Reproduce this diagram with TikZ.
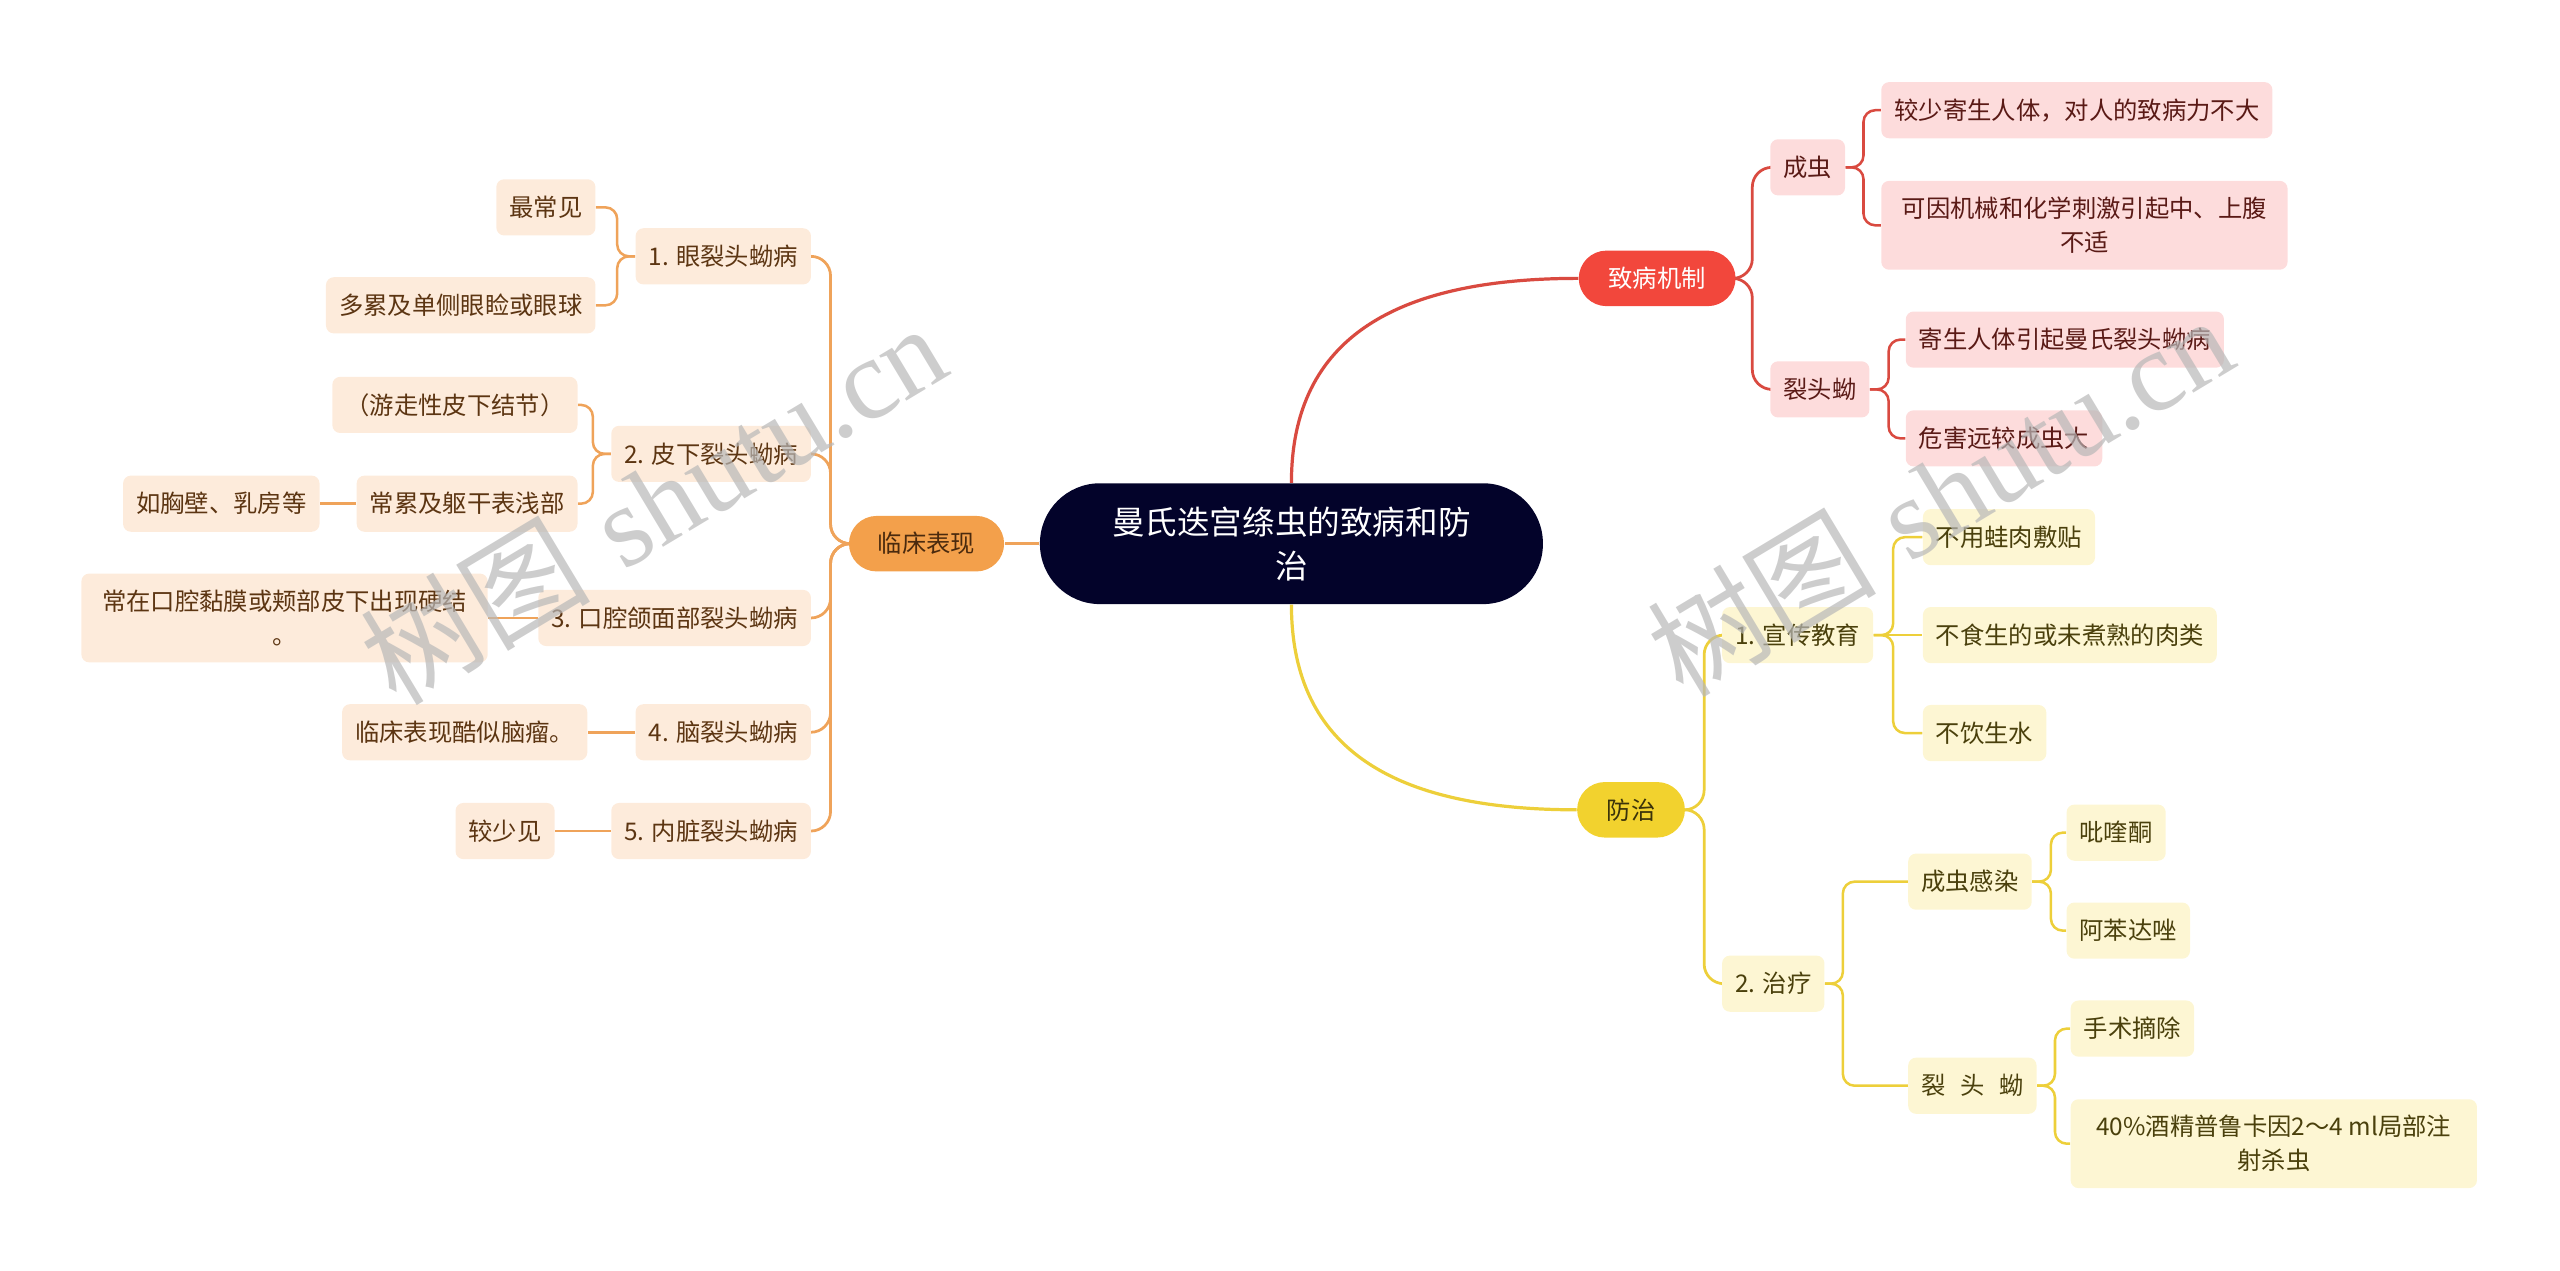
\documentclass[tikz,border=0pt]{standalone}
\usepackage{fontspec}
\usetikzlibrary{backgrounds}
\newfontfamily\cjk{Noto Sans CJK SC}
\newfontfamily\wmserif{Liberation Serif}
\definecolor{rootfill}{HTML}{03032A}
\definecolor{ofill}{HTML}{F3A04B}
\definecolor{rfill}{HTML}{F2473C}
\definecolor{yfill}{HTML}{F2D22E}
\definecolor{lbg}{HTML}{FDEBDB}
\definecolor{rbg}{HTML}{FDDCDC}
\definecolor{ybg}{HTML}{FDF6D3}
\definecolor{ltxt}{HTML}{5C3512}
\definecolor{rtxt}{HTML}{5A1A16}
\definecolor{ytxt}{HTML}{4A400C}
\definecolor{oline}{HTML}{EFA35A}
\definecolor{rline}{HTML}{D94A40}
\definecolor{yline}{HTML}{EDCF3A}
\tikzset{
  every node/.style={font=\cjk\fontsize{10.6pt}{14.9pt}\selectfont},
  basebox/.style={rounded corners=0.12cm, inner xsep=0.2cm, minimum height=0.86cm, align=center},
  lbox/.style={basebox, fill=lbg, text=ltxt},
  rbox/.style={basebox, fill=rbg, text=rtxt},
  ybox/.style={basebox, fill=ybg, text=ytxt},
  twoline/.style={minimum height=1.36cm, minimum width=6.22cm},
  pill/.style={rounded corners=0.425cm, minimum height=0.85cm, inner xsep=0.1cm},
  mainl/.style={line width=1.4pt},
  brl/.style={line width=1.2pt, rounded corners=0.3cm},
  subl/.style={line width=1.1pt, rounded corners=0.18cm},
  strl/.style={line width=1.1pt},
  wm/.style={font=\fontsize{50pt}{50pt}\selectfont, text=black!28, opacity=0.7, rotate=31}
}
\begin{document}
\begin{tikzpicture}[x=0.025cm, y=-0.025cm]
\useasboundingbox (0,0) rectangle (1568,778);

% ---------- root and main branches ----------
\node[fill=rootfill, text=white, rounded corners=0.92cm, minimum width=7.7cm, minimum height=1.85cm,
      align=center, font=\cjk\fontsize{14.2pt}{19.2pt}\selectfont] (root) at (791,333)
      {曼氏迭宫绦虫的致病和防\\治};
\node[pill, fill=ofill, text=ltxt!80!black, minimum width=2.375cm] (lc) at (567.5,333) {临床表现};
\node[pill, fill=rfill, text=white, minimum width=2.4cm] (zb) at (1015,170.5) {致病机制};
\node[pill, fill=yfill, text=ytxt!80!black, minimum width=1.65cm] (fz) at (999,496) {防治};

% ---------- left: 临床表现 ----------
\node[lbox, anchor=east] (e1) at (497,157) {1. 眼裂头蚴病};
\node[lbox, anchor=east] (e2) at (497,278) {2. 皮下裂头蚴病};
\node[lbox, anchor=east] (e3) at (497,378.5) {3. 口腔颌面部裂头蚴病};
\node[lbox, anchor=east] (e4) at (497,448.5) {4. 脑裂头蚴病};
\node[lbox, anchor=east] (e5) at (497,509) {5. 内脏裂头蚴病};

\node[lbox, anchor=east] (m1) at (365,127) {最常见};
\node[lbox, anchor=east] (m2) at (365,187) {多累及单侧眼睑或眼球};
\node[lbox, anchor=east] (p1) at (354,248) {（游走性皮下结节）};
\node[lbox, anchor=east] (p2) at (354,308.5) {常累及躯干表浅部};
\node[lbox, anchor=east] (p3) at (196,308.5) {如胸壁、乳房等};
\node[lbox, twoline, anchor=east] (k1) at (299,378.5) {常在口腔黏膜或颊部皮下出现硬结\\。};
\node[lbox, anchor=east] (n1) at (360,448.5) {临床表现酷似脑瘤。};
\node[lbox, anchor=east] (v1) at (340,509) {较少见};

% ---------- right: 致病机制 ----------
\node[rbox, anchor=west] (cc) at (1084,102.5) {成虫};
\node[rbox, anchor=west] (lt) at (1084,238.5) {裂头蚴};
\node[rbox, anchor=west] (c1) at (1152,67.5) {较少寄生人体，对人的致病力不大};
\node[rbox, twoline, anchor=west] (c2) at (1152,138) {可因机械和化学刺激引起中、上腹\\不适};
\node[rbox, anchor=west] (l1) at (1167,208) {寄生人体引起曼氏裂头蚴病};
\node[rbox, anchor=west] (l2) at (1167,268.5) {危害远较成虫大};

% ---------- right: 防治 ----------
\node[ybox, anchor=west] (xj) at (1054.5,389) {1. 宣传教育};
\node[ybox, anchor=west] (zl) at (1054.5,602.5) {2. 治疗};
\node[ybox, anchor=west] (x1) at (1177.5,329) {不用蛙肉敷贴};
\node[ybox, anchor=west] (x2) at (1177.5,389) {不食生的或未煮熟的肉类};
\node[ybox, anchor=west] (x3) at (1177.5,449) {不饮生水};
\node[ybox, anchor=west] (cg) at (1168.5,540) {成虫感染};
\node[ybox, anchor=west] (lz) at (1168.5,665) {裂\hspace{0.6em}头\hspace{0.6em}蚴};
\node[ybox, anchor=west] (g1) at (1265.5,510) {吡喹酮};
\node[ybox, anchor=west] (g2) at (1265.5,570) {阿苯达唑};
\node[ybox, anchor=west] (s1) at (1268,630) {手术摘除};
\node[ybox, twoline, anchor=west] (s2) at (1268,700.5) {40\%酒精普鲁卡因2～4 ml局部注\\射杀虫};

% ---------- connectors ----------
\begin{scope}[on background layer]
\draw[mainl, oline] (root.west) -- (lc.east);
\draw[mainl, rline] (root.north) .. controls +(0,-90) and +(-110,0) .. (zb.west);
\draw[mainl, yline] (root.south) .. controls +(0,90) and +(-110,0) .. (fz.west);

% 临床表现 children
\foreach \c in {e1, e2, e3, e4, e5}
  \draw[brl, oline] (lc.west) -- ++(-11,0) |- (\c.east);
% 致病机制 children
\foreach \c in {cc, lt}
  \draw[brl, rline] (zb.east) -- ++(10,0) |- (\c.west);
% 防治 children
\foreach \c in {xj, zl}
  \draw[brl, yline] (fz.east) -- ++(11.5,0) |- (\c.west);

% deeper levels, left
\draw[subl, oline] (e1.west) -- ++(-11,0) |- (m1.east);
\draw[subl, oline] (e1.west) -- ++(-11,0) |- (m2.east);
\draw[subl, oline] (e2.west) -- ++(-11,0) |- (p1.east);
\draw[subl, oline] (e2.west) -- ++(-11,0) |- (p2.east);
\draw[strl, oline] (p2.west) -- (p3.east);
\draw[strl, oline] (e3.west) -- (k1.east);
\draw[strl, oline] (e4.west) -- (n1.east);
\draw[strl, oline] (e5.west) -- (v1.east);

% deeper levels, red
\draw[subl, rline] (cc.east) -- ++(11,0) |- (c1.west);
\draw[subl, rline] (cc.east) -- ++(11,0) |- (c2.west);
\draw[subl, rline] (lt.east) -- ++(11.5,0) |- (l1.west);
\draw[subl, rline] (lt.east) -- ++(11.5,0) |- (l2.west);

% deeper levels, yellow
\draw[subl, yline] (xj.east) -- ++(12,0) |- (x1.west);
\draw[strl, yline] (xj.east) -- (x2.west);
\draw[subl, yline] (xj.east) -- ++(12,0) |- (x3.west);
\draw[subl, yline] (zl.east) -- ++(11,0) |- (cg.west);
\draw[subl, yline] (zl.east) -- ++(11,0) |- (lz.west);
\draw[subl, yline] (cg.east) -- ++(11.5,0) |- (g1.west);
\draw[subl, yline] (cg.east) -- ++(11.5,0) |- (g2.west);
\draw[subl, yline] (lz.east) -- ++(11,0) |- (s1.west);
\draw[subl, yline] (lz.east) -- ++(11,0) |- (s2.west);
\end{scope}

% ---------- watermarks ----------
\node[wm] (wm1) at (400,308) {{\cjk 树图} {\wmserif shutu.cn}};
\node[wm] (wm2) at (1188,303) {{\cjk 树图} {\wmserif shutu.cn}};
\end{tikzpicture}
\end{document}
